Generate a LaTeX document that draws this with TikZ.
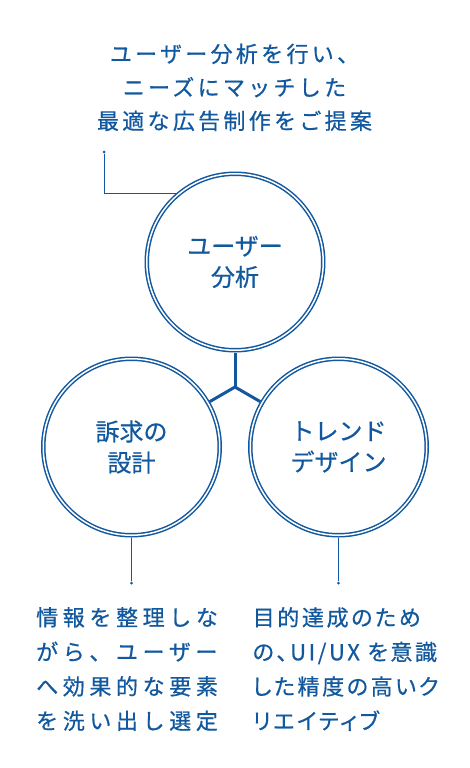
\documentclass[tikz,border=0pt]{standalone}
\usepackage{fontspec}
\setmainfont{Noto Sans CJK JP}[FakeBold=0.6]
\definecolor{ink}{RGB}{18,88,158}

\begin{document}
\begin{tikzpicture}[
        x=1pt, y=-1pt,
        ring/.style={circle, draw=ink, line width=1.5pt, double=white, double distance=1.5pt, minimum size=176.5pt, inner sep=0pt, outer sep=2.25pt, align=center, text=ink, font=\fontsize{24}{31}\selectfont},
        dot/.style={circle, fill=ink, minimum size=3pt, inner sep=0pt},
        thin edge/.style={draw=ink, line width=0.8pt},
        thick edge/.style={draw=ink, line width=3pt},
        note/.style={inner sep=0pt, text=ink, font=\fontsize{22}{34.5}\selectfont\addfontfeature{LetterSpace=21}},
        note_c/.style={note, font=\fontsize{22}{33.5}\selectfont\addfontfeature{LetterSpace=15}},
        note_p/.style={note, font=\fontsize{22}{34.5}\selectfont\addfontfeatures{LetterSpace=12, RawFeature=+palt}}
    ]
	\useasboundingbox (0,0) rectangle (470,768);
	\node[ring] (c_1) at (235,262) {ユーザー\\分析};
	\node[ring] (c_2) at (131.5,447) {訴求の\\設計};
	\node[ring] (c_3) at (338.5,447) {トレンド\\デザイン};
	\coordinate (j) at (235,387);
	\draw[thick edge] (c_1) -- (j);
	\draw[thick edge] (c_2) -- (j) -- (c_3);
	\node[dot] (d_1) at (104,152) {};
	\node[dot] (d_2) at (131.5,583) {};
	\node[dot] (d_3) at (338.5,583) {};
	\draw[thin edge] (d_1) |- (c_1.131);
	\draw[thin edge] (c_2) -- (d_2);
	\draw[thin edge] (c_3) -- (d_3);
	\node[note_c, anchor=north, align=center] (n_1) at (234.5,43.5) {ユーザー分析を行い、\\ニーズにマッチした\\最適な広告制作をご提案};
	\node[note, anchor=north west, align=left] (n_2) at (36,607) {情報を整理しな\\がら、ユーザー\\へ効果的な要素\\を洗い出し選定};
	\node[note_p, anchor=north west, align=left] (n_3) at (252.5,607) {目的達成のため\\の、UI/UX を意識\\した精度の高いク\\リエイティブ};
\end{tikzpicture}
\end{document}
